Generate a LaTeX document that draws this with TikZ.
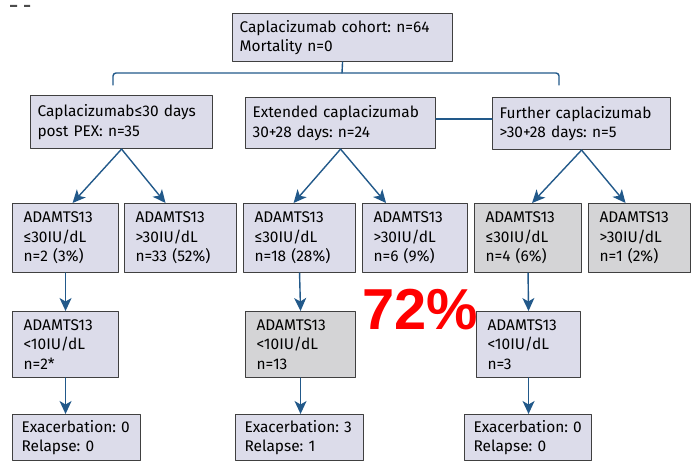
\documentclass[tikz,border=0pt]{standalone}
\usepackage{fontspec}
\setmainfont{Fira Sans}
\newfontfamily\bigfont{Liberation Sans}
\usetikzlibrary{arrows.meta}
\frenchspacing
\definecolor{boxfill}{HTML}{DCDCEA}
\definecolor{greyfill}{HTML}{D4D4D6}
\definecolor{boxedge}{HTML}{404040}
\definecolor{linkblue}{HTML}{22598A}
\tikzset{
  cbox/.style={draw=boxedge,fill=boxfill,line width=1.1bp,anchor=north west,align=left,
    inner xsep=11bp,inner ysep=0pt,font=\fontsize{15.5}{19.5}\selectfont},
  topbox/.style={cbox,inner xsep=7bp},
  outbox/.style={cbox,inner xsep=9bp},
  greybox/.style={fill=greyfill},
  link/.style={draw=linkblue,line width=1.4bp},
  arr/.style={link,-{Stealth[length=13bp,width=12bp,inset=3.5bp]}}
}
\begin{document}
\begin{tikzpicture}[x=1bp,y=-1bp,line join=round,line cap=round]
	\useasboundingbox (0,0) rectangle (692,461);
	\fill[black!70] (10,5) rectangle (17,7) (24,5) rectangle (30,7);
	\node[topbox,text width=206bp,minimum height=48bp] (cohort) at (232,13) {Caplacizumab cohort: n=64\\Mortality n=0};
	\node[topbox,text width=168bp,minimum height=53bp] (short) at (30,95) {Caplacizumab≤30 days\\post PEX: n=35};
	\node[topbox,text width=176bp,minimum height=51bp] (ext) at (245,97) {Extended caplacizumab\\30+28 days: n=24};
	\node[topbox,text width=164bp,minimum height=52bp] (further) at (492,97) {Further caplacizumab\\>30+28 days: n=5};
	\node[cbox,text width=84bp,minimum height=69bp] (sLow) at (12,203) {ADAMTS13\\≤30IU/dL\\n=2 (3\%)};
	\node[cbox,text width=90bp,minimum height=69bp] (sHigh) at (124,203) {ADAMTS13\\>30IU/dL\\n=33 (52\%)};
	\node[cbox,text width=90bp,minimum height=69bp] (eLow) at (243,203) {ADAMTS13\\≤30IU/dL\\n=18 (28\%)};
	\node[cbox,text width=83bp,minimum height=69bp] (eHigh) at (362,203) {ADAMTS13\\>30IU/dL\\n=6 (9\%)};
	\node[cbox,greybox,text width=85bp,minimum height=69bp] (fLow) at (474,203) {ADAMTS13\\≤30IU/dL\\n=4 (6\%)};
	\node[cbox,greybox,text width=80bp,minimum height=69bp] (fHigh) at (588,203) {ADAMTS13\\>30IU/dL\\n=1 (2\%)};
	\node[cbox,text width=84bp,minimum height=66bp] (sVery) at (12,311) {ADAMTS13\\<10IU/dL\\n=2*};
	\node[cbox,greybox,text width=88bp,minimum height=66bp] (eVery) at (245,311) {ADAMTS13\\<10IU/dL\\n=13};
	\node[cbox,text width=82bp,minimum height=66bp] (fVery) at (476,311) {ADAMTS13\\<10IU/dL\\n=3};
	\node[outbox,text width=110bp,minimum height=46bp] (sOut) at (12,414) {Exacerbation: 0\\Relapse: 0};
	\node[outbox,text width=110bp,minimum height=46bp] (eOut) at (235,414) {Exacerbation: 3\\Relapse: 1};
	\node[outbox,text width=109bp,minimum height=46bp] (fOut) at (464,414) {Exacerbation: 0\\Relapse: 0};
	\node[anchor=base west,inner sep=0pt,text=red,font=\bigfont\bfseries\fontsize{58}{58}\selectfont] (pct) at (362,330) {72\%};
	\coordinate (tick) at (342,73);
	\coordinate (lend) at (113,85);
	\coordinate (rend) at (559,85);
	\draw[link] (cohort.south) -- (tick);
	\draw[link,rounded corners=3bp] (lend) |- (tick) -| (rend);
	\draw[link] ([yshift=4bp]ext.east) -- ([yshift=4bp]ext.east -| further.west);
	\draw[arr] (short.south) -- ([xshift=7bp]sLow.north);
	\draw[arr] (short.south) -- ([xshift=-15bp]sHigh.north);
	\draw[arr] (ext.south) -- ([xshift=-6bp]eLow.north);
	\draw[arr] (ext.south) -- ([xshift=-29bp]eHigh.north);
	\draw[arr] (further.south) -- ([xshift=4bp]fLow.north);
	\draw[arr] (further.south) -- ([xshift=-14bp]fHigh.north);
	\draw[arr] (sLow.south) -- (sVery.north);
	\draw[arr] (eLow.south) -- (eVery.north);
	\draw[arr] (fLow.south) -- (fVery.north);
	\draw[arr] (sVery.south) -- (sVery.south |- sOut.north);
	\draw[arr] (eVery.south) -- (eVery.south |- eOut.north);
	\draw[arr] (fVery.south) -- (fVery.south |- fOut.north);
\end{tikzpicture}
\end{document}
